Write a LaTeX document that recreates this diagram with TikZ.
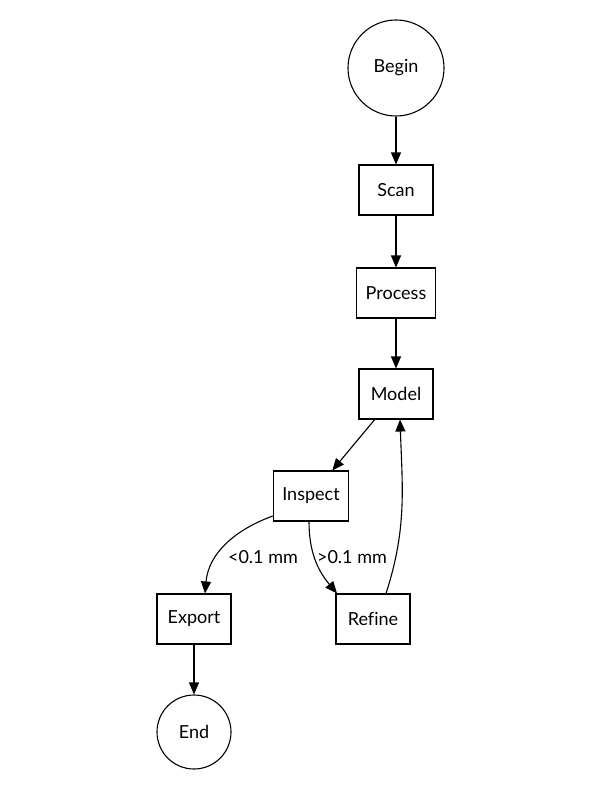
\documentclass[tikz,border=0pt]{standalone}
\usepackage{fontspec}
\setmainfont{Lato}[Ligatures=CommonOff]
\usetikzlibrary{arrows.meta}

\begin{document}
\begin{tikzpicture}[x=1pt,y=-1pt,line width=1.1pt,
  every node/.style={font=\fontsize{18}{20}\selectfont},
  stepbox/.style={draw,rectangle,minimum width=74pt,minimum height=50pt,inner xsep=9pt},
  endpoint/.style={draw,circle,inner sep=0pt},
  flow/.style={-{Triangle[length=12pt,width=10pt]}},
  cond/.style={inner sep=1pt}]
\useasboundingbox (0,0) rectangle (598,789);
% nodes
\node[endpoint,minimum size=96pt] (begin) at (396,68) {Begin};
\node[stepbox] (scan) at (396,190) {Scan};
\node[stepbox] (proc) at (396,293) {Process};
\node[stepbox] (model) at (396,394) {Model};
\node[stepbox] (insp) at (311,496) {Inspect};
\node[stepbox] (export) at (194,619) {Export};
\node[stepbox] (refine) at (373,619) {Refine};
\node[endpoint,minimum size=74pt] (end) at (194,732) {End};
% connectors
\draw[flow] (begin) -- (scan);
\draw[flow] (scan) -- (proc);
\draw[flow] (proc) -- (model);
\draw[flow] (model) -- (insp);
\draw[flow] ([yshift=-20pt]insp.west) to[out=200,in=85] ([xshift=11pt]export.north);
\draw[flow] ([xshift=-2pt]insp.south) to[out=-90,in=130] ([xshift=-36pt]refine.north);
\draw[flow] ([xshift=13pt]refine.north) to[out=72,in=-88] ([xshift=4pt]model.south);
\draw[flow] (export) -- (end);
% labels
\node[cond] (lowlbl) at (263,557) {<0.1 mm};
\node[cond] (highlbl) at (352,557) {>0.1 mm};
\end{tikzpicture}
\end{document}
